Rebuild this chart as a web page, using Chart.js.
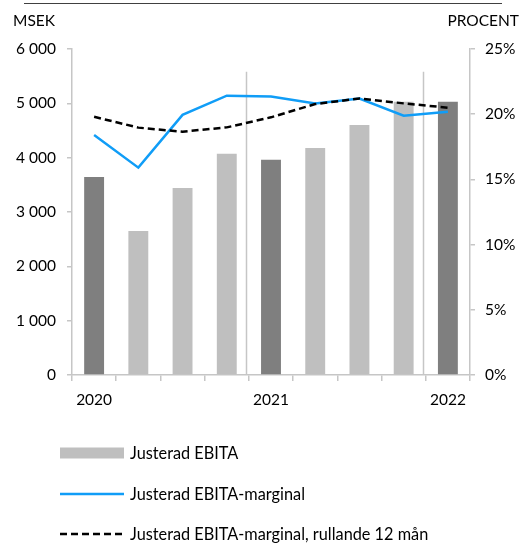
<!DOCTYPE html>
<html>
<head>
<meta charset="utf-8">
<script src="https://cdn.jsdelivr.net/npm/chart.js@4/dist/chart.umd.min.js"></script>
<style>
  html, body { margin: 0; padding: 0; background: #fff; }
  #wrap { position: relative; width: 522px; height: 544px; overflow: hidden; font-family: Lato, "Open Sans", sans-serif; }
  #chartBox { position: absolute; left: 0; top: 0; width: 522px; height: 420px; }
  #legend { position: absolute; left: 0; top: 0; width: 522px; height: 544px; pointer-events: none; }
  .item { position: absolute; left: 60px; height: 20px; display: flex; align-items: center; font-size: 16.3px; line-height: 20px; color: #000; white-space: nowrap; }
  .item svg { display: block; margin-right: 6px; }
</style>
</head>
<body>
<div id="wrap">
  <div id="chartBox"><canvas id="c" width="522" height="420"></canvas></div>
  <div id="legend"></div>
</div>
<script>
// ---- data ----
const categories = ['2020', '', '', '', '2021', '', '', '', '2022'];
const ebita = [3645, 2650, 3440, 4070, 3960, 4180, 4600, 5030, 5030];          // MSEK
const ebitaMargin = [18.4, 15.9, 19.95, 21.42, 21.35, 20.83, 21.2, 19.88, 20.19]; // %
const ebitaMarginR12 = [19.8, 18.97, 18.66, 18.99, 19.76, 20.78, 21.2, 20.83, 20.5]; // %
const leftTicks = [0, 1000, 2000, 3000, 4000, 5000, 6000];
const rightTicks = [0, 5, 10, 15, 20, 25];
const seriesNames = ['Justerad EBITA', 'Justerad EBITA-marginal', 'Justerad EBITA-marginal, rullande 12 mån'];
const yearBreaks = [3.44, 7.44];   // category positions of the year separators
const yearBreakTop = 5580;         // MSEK

// ---- styles ----
const DARK = '#7f7f7f', LIGHT = '#bfbfbf', BLUE = '#109df7', AXIS = '#c6c6c6';
const FONT = 'Lato, "Open Sans", sans-serif';
Chart.defaults.font.family = FONT;
Chart.defaults.font.size = 15.5;
Chart.defaults.color = '#000';

const fmtThousands = v => String(v).replace(/\B(?=(\d{3})+(?!\d))/g, ' ');

const decor = {
  id: 'decor',
  beforeDatasetsDraw(chart) {
    const ctx = chart.ctx, x = chart.scales.x, y = chart.scales.y;
    ctx.save();
    ctx.strokeStyle = AXIS;
    ctx.lineWidth = 1.5;
    yearBreaks.forEach(p => {
      const px = Math.round(x.getPixelForValue(p)) + 0.5;
      ctx.beginPath();
      ctx.moveTo(px, y.getPixelForValue(yearBreakTop));
      ctx.lineTo(px, y.getPixelForValue(0));
      ctx.stroke();
    });
    ctx.restore();
  },
  afterDraw(chart) {
    const ctx = chart.ctx;
    ctx.save();
    ctx.strokeStyle = '#404040';
    ctx.lineWidth = 1;
    ctx.beginPath();
    ctx.moveTo(24, 3.5);
    ctx.lineTo(502, 3.5);
    ctx.stroke();
    ctx.fillStyle = '#000';
    ctx.font = '15.5px ' + FONT;
    ctx.textBaseline = 'middle';
    ctx.textAlign = 'left';
    ctx.fillText('MSEK', 13, 21);
    ctx.textAlign = 'right';
    ctx.fillText('PROCENT', 519, 21);
    ctx.restore();
  }
};

const chart = new Chart(document.getElementById('c'), {
  data: {
    labels: categories,
    datasets: [
      {
        type: 'bar', label: seriesNames[0], data: ebita, yAxisID: 'y', order: 3,
        backgroundColor: ctx => (ctx.dataIndex % 4 === 0 ? DARK : LIGHT),
        categoryPercentage: 0.45, barPercentage: 1
      },
      {
        type: 'line', label: seriesNames[1], data: ebitaMargin, yAxisID: 'y1', order: 2,
        borderColor: BLUE, borderWidth: 2.5, pointRadius: 0, tension: 0, fill: false
      },
      {
        type: 'line', label: seriesNames[2], data: ebitaMarginR12, yAxisID: 'y1', order: 1,
        borderColor: '#000', borderWidth: 2.5, borderDash: [7, 4], pointRadius: 0, tension: 0, fill: false
      }
    ]
  },
  options: {
    responsive: false,
    animation: false,
    layout: { padding: { top: 49, left: 0, right: 0, bottom: 0 } },
    plugins: { legend: { display: false }, tooltip: { enabled: false } },
    scales: {
      x: {
        offset: true,
        grid: { display: true, offset: true, drawOnChartArea: false, drawTicks: true, tickLength: 6, color: AXIS, lineWidth: 1.5 },
        border: { display: true, color: AXIS, width: 1.5 },
        ticks: { autoSkip: false, maxRotation: 0, padding: 10 },
        afterFit: s => { s.height = 45; }
      },
      y: {
        position: 'left', min: 0, max: 6000,
        afterBuildTicks: s => { s.ticks = leftTicks.map(v => ({ value: v })); },
        grid: { drawOnChartArea: false, drawTicks: true, tickLength: 5, color: AXIS, lineWidth: 1.5 },
        border: { display: true, color: AXIS, width: 1.5 },
        ticks: { padding: 11, callback: v => fmtThousands(v) },
        afterFit: s => { s.width = 72; }
      },
      y1: {
        position: 'right', min: 0, max: 25,
        afterBuildTicks: s => { s.ticks = rightTicks.map(v => ({ value: v })); },
        grid: { drawOnChartArea: false, drawTicks: true, tickLength: 5, color: AXIS, lineWidth: 1.5 },
        border: { display: true, color: AXIS, width: 1.5 },
        ticks: { padding: 10, callback: v => v + '%' },
        afterFit: s => { s.width = 52; }
      }
    }
  },
  plugins: [decor]
});

// ---- HTML legend built from the datasets ----
const legend = document.getElementById('legend');
const rowCenters = [453, 494, 534];
chart.data.datasets.forEach((ds, i) => {
  const item = document.createElement('div');
  item.className = 'item';
  item.style.top = (rowCenters[i] - 10) + 'px';
  let sw;
  if (ds.type === 'bar') {
    sw = `<svg width="64" height="20"><rect x="0" y="4.5" width="64" height="11" fill="${LIGHT}"/></svg>`;
  } else {
    const dash = ds.borderDash ? `stroke-dasharray="${ds.borderDash.join(' ')}"` : '';
    sw = `<svg width="64" height="20"><line x1="0" y1="10" x2="64" y2="10" stroke="${ds.borderColor}" stroke-width="${ds.borderWidth}" ${dash}/></svg>`;
  }
  item.innerHTML = sw + '<span></span>';
  item.querySelector('span').textContent = ds.label;
  legend.appendChild(item);
});
</script>
</body>
</html>
